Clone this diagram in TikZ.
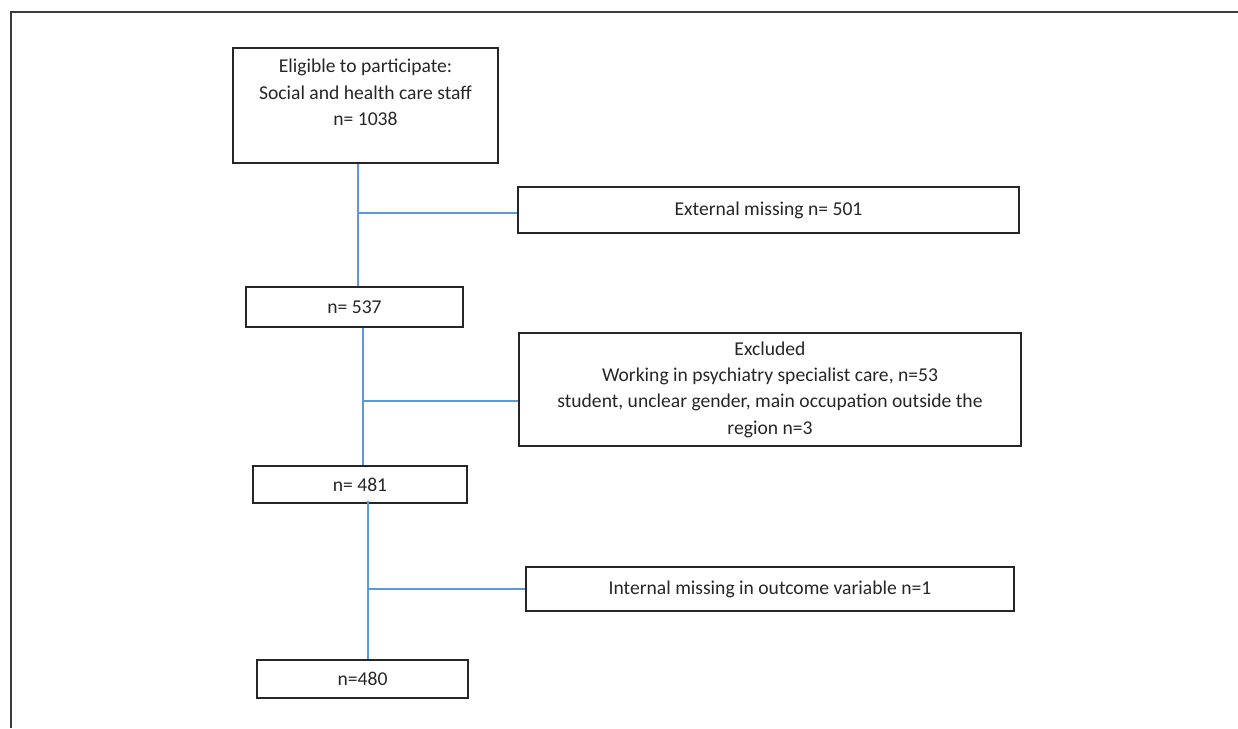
\documentclass[tikz,border=0pt]{standalone}
\usepackage{fontspec}
\setmainfont{Carlito}
\definecolor{linkblue}{RGB}{91,155,213}
\definecolor{boxline}{RGB}{38,38,38}
\begin{document}
\begin{tikzpicture}[x=1pt,y=-1pt,
  box/.style={draw=boxline,line width=1.4pt,rectangle,inner sep=0pt,align=center,
    font=\fontsize{19.6}{26.3}\selectfont,text=black!85},
  link/.style={draw=linkblue,line width=1.3pt},
  frameline/.style={draw=boxline!90,line width=2pt}]
\useasboundingbox (0,0) rectangle (1238,728);
\draw[frameline] (1238,12) -- (11,12) -- (11,728);
\node[box,minimum width=265,minimum height=115] (b1) at (365.5,105.5)
  {Eligible to participate:\\Social and health care staff\\n= 1038\\\mbox{}};
\node[box,minimum width=501,minimum height=46] (b2) at (768.5,210) {External missing n= 501};
\node[box,minimum width=217,minimum height=40] (b3) at (354.5,307) {n= 537};
\node[box,minimum width=502,minimum height=113] (b4) at (770,389.5)
  {Excluded\\Working in psychiatry specialist care, n=53\\student, unclear gender, main occupation outside the\\region n=3};
\node[box,minimum width=214,minimum height=37] (b5) at (360,484.5) {n= 481};
\node[box,minimum width=488,minimum height=44] (b6) at (770,589) {Internal missing in outcome variable n=1};
\node[box,minimum width=211,minimum height=38] (b7) at (362.5,679) {n=480};
\coordinate (j1) at (358,213);
\coordinate (j2) at (363,401);
\coordinate (j3) at (368,589);
\draw[link] (b1.south -| j1) -- (b3.north -| j1);
\draw[link] (j1) -- (b2.west |- j1);
\draw[link] (b3.south -| j2) -- (b5.north -| j2);
\draw[link] (j2) -- (b4.west |- j2);
\draw[link] ([yshift=3pt]b5.south -| j3) -- (b7.north -| j3);
\draw[link] (j3) -- (b6.west |- j3);
\end{tikzpicture}
\end{document}
